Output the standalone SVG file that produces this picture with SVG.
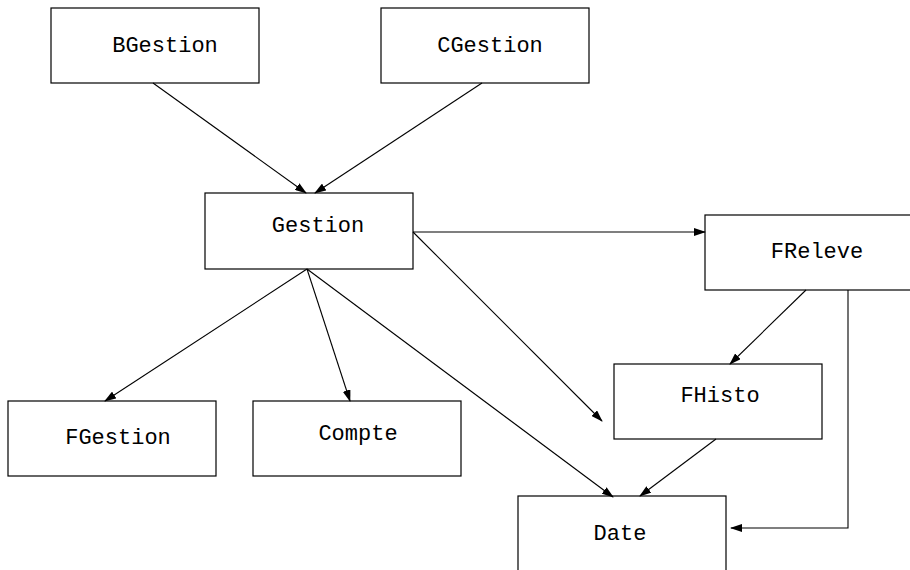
<svg xmlns="http://www.w3.org/2000/svg" width="910" height="570" viewBox="0 0 910 570">
<defs>
<marker id="ah" markerWidth="12" markerHeight="8" refX="11" refY="4" orient="auto" markerUnits="userSpaceOnUse">
<path d="M0,0 L12,4 L0,8 Z" fill="#000"/>
</marker>
<style>
.box{fill:#fff;stroke:#000;stroke-width:1.2}
.lbl{font-family:"Liberation Mono","DejaVu Sans Mono",monospace;font-size:22px;fill:#000;text-anchor:middle}
.c{fill:none;stroke:#000;stroke-width:1.1;marker-end:url(#ah)}
</style>
</defs>
<rect width="910" height="570" fill="#fff"/>
<g id="BGestion"><rect class="box" x="51" y="8" width="208" height="75"/><text class="lbl" x="165" y="52">BGestion</text></g>
<g id="CGestion"><rect class="box" x="381" y="8" width="208" height="75"/><text class="lbl" x="490" y="52">CGestion</text></g>
<g id="Gestion"><rect class="box" x="205" y="193" width="208" height="76"/><text class="lbl" x="318" y="232">Gestion</text></g>
<g id="FReleve"><rect class="box" x="705" y="215" width="210" height="75"/><text class="lbl" x="817" y="258">FReleve</text></g>
<g id="FHisto"><rect class="box" x="614" y="364" width="208" height="75"/><text class="lbl" x="720" y="402">FHisto</text></g>
<g id="FGestion"><rect class="box" x="8" y="401" width="208" height="75"/><text class="lbl" x="118" y="444">FGestion</text></g>
<g id="Compte"><rect class="box" x="253" y="401" width="208" height="75"/><text class="lbl" x="358" y="440">Compte</text></g>
<g id="Date"><rect class="box" x="518" y="496" width="208" height="80"/><text class="lbl" x="620" y="540">Date</text></g>
<g id="connectors">
<line class="c" x1="153" y1="83" x2="306" y2="193"/>
<line class="c" x1="482" y1="83" x2="315" y2="193"/>
<line class="c" x1="413" y1="232" x2="705" y2="232"/>
<line class="c" x1="413" y1="232" x2="602" y2="421"/>
<line class="c" x1="307" y1="269" x2="105" y2="401"/>
<line class="c" x1="307" y1="269" x2="350" y2="401"/>
<line class="c" x1="307" y1="269" x2="613" y2="497"/>
<line class="c" x1="806" y1="290" x2="730" y2="364"/>
<line class="c" x1="716" y1="439" x2="640" y2="496"/>
<polyline class="c" points="848,290 848,528 731,528"/>
</g>
</svg>
